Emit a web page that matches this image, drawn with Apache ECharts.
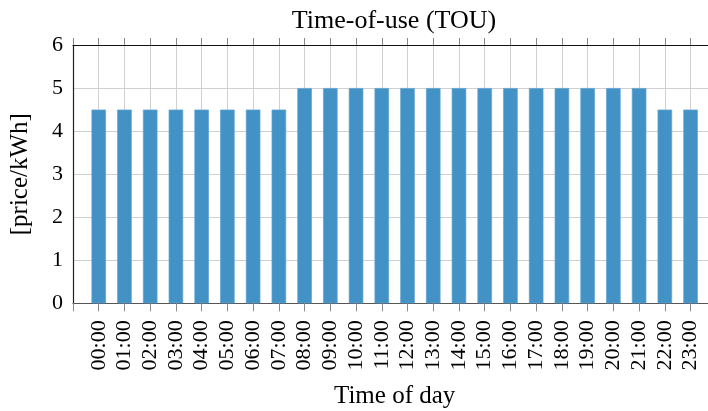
<!DOCTYPE html>
<html>
<head>
<meta charset="utf-8">
<script src="https://cdn.jsdelivr.net/npm/echarts@6/dist/echarts.min.js"></script>
<style>html,body{margin:0;padding:0;background:#fff}#c{width:708px;height:411px}</style>
</head>
<body>
<div id="c"></div>
<script>
const hours = ['00:00','01:00','02:00','03:00','04:00','05:00','06:00','07:00','08:00','09:00','10:00','11:00','12:00','13:00','14:00','15:00','16:00','17:00','18:00','19:00','20:00','21:00','22:00','23:00'];
const prices = [4.5,4.5,4.5,4.5,4.5,4.5,4.5,4.5,5,5,5,5,5,5,5,5,5,5,5,5,5,5,4.5,4.5];
const yTicks = [0,1,2,3,4,5,6];
const titleText = 'Time-of-use (TOU)';
const xName = 'Time of day';
const yName = '[price/kWh]';

// pad with empty categories at both ends so the axis spans -1..24
const cats = [''].concat(hours, ['']);
const vals = [null].concat(prices, [null]);

const F = 'Liberation Serif';
const chart = echarts.init(document.getElementById('c'), null, {renderer:'canvas'});
chart.setOption({
  animation: false,
  backgroundColor: '#fff',
  title: {
    text: titleText, left: 389, top: 3, textAlign: 'center',
    textStyle: {fontFamily: F, fontSize: 26, fontWeight: 'normal', color: '#000'}
  },
  grid: {left: 73, right: -8.3, top: 45, bottom: 107.7, containLabel: false, outerBoundsMode: 'none'},
  xAxis: [{
    type: 'category', data: cats, boundaryGap: false, position: 'bottom',
    name: xName, nameLocation: 'middle', nameGap: 81,
    nameTextStyle: {fontFamily: F, fontSize: 25, color: '#000'},
    axisLine: {lineStyle: {color: '#555', width: 1.2}},
    axisTick: {show: true, interval: 0, length: 8, inside: false, lineStyle: {color: '#888'}},
    axisLabel: {interval: 0, rotate: 90, margin: 17, fontFamily: F, fontSize: 22, color: '#000'},
    splitLine: {show: true, interval: 0, lineStyle: {color: '#d0d0d0', width: 1}}
  }, {
    type: 'category', data: cats, boundaryGap: false, position: 'top',
    axisLine: {lineStyle: {color: '#111', width: 1.2}},
    axisTick: {show: true, interval: 0, length: 7, lineStyle: {color: '#888'}},
    axisLabel: {show: false},
    splitLine: {show: false}
  }],
  yAxis: {
    type: 'value', min: yTicks[0], max: yTicks[yTicks.length-1], interval: 1,
    name: yName, nameLocation: 'middle', nameGap: 40,
    nameTextStyle: {fontFamily: F, fontSize: 25, color: '#000'},
    axisLine: {show: true, lineStyle: {color: '#222', width: 1.2}},
    axisTick: {show: false},
    axisLabel: {margin: 10, fontFamily: F, fontSize: 22, color: '#000'},
    splitLine: {show: true, lineStyle: {color: '#d0d0d0', width: 1}}
  },
  series: [{
    type: 'bar', data: vals, xAxisIndex: 0, barWidth: 14.5,
    itemStyle: {color: '#4292c6', borderColor: '#5ea3d2', borderWidth: 0.7}
  }]
});
</script>
</body>
</html>
